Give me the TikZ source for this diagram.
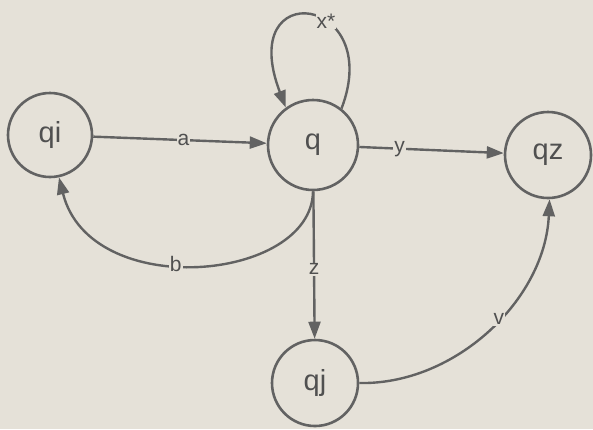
\documentclass[tikz,border=0pt]{standalone}
\usepackage{fontspec}
\setmainfont{Liberation Sans}
\usetikzlibrary{arrows.meta}
\definecolor{bg}{RGB}{229,225,216}
\definecolor{ink}{RGB}{98,98,98}
\definecolor{txt}{RGB}{80,80,80}
\tikzset{
  state/.style={circle, draw=ink, line width=2.6pt, text=txt, font=\fontsize{29}{29}\selectfont, inner sep=0pt},
  edge/.style={draw=ink, line width=2.4pt, -{Triangle[length=17pt,width=12pt]}},
  lbl/.style={fill=bg, text=txt, font=\fontsize{21}{21}\selectfont, inner sep=1pt}
}
\begin{document}
\begin{tikzpicture}[x=1pt,y=-1pt]
\useasboundingbox (0,0) rectangle (593,429);
\fill[bg] (0,0) rectangle (593,429);
\node[state, minimum size=84pt] (qi) at (50,135) {qi};
\node[state, minimum size=90pt] (q) at (313,145) {q};
\node[state, minimum size=86pt] (qz) at (548,155) {qz};
\node[state, minimum size=86pt] (qj) at (315,383) {qj};
\draw[edge] (qi) -- node[lbl, pos=0.52] {a} (q);
\draw[edge] (q) -- node[lbl, pos=0.28] {y} (qz);
\draw[edge] (q) -- node[lbl, pos=0.53] {z} (qj);
\draw[edge] (q.-90) .. controls (312,282) and (90,302) .. node[lbl, pos=0.56] {b} (qi.-78);
\draw[edge] (q.52) .. controls (385,-5) and (235,-25) .. node[lbl, pos=0.4] {x*} (q.126);
\draw[edge] (qj.0) .. controls (455,385) and (545,300) .. node[lbl, pos=0.55] {v} (qz.-88);
\end{tikzpicture}
\end{document}
